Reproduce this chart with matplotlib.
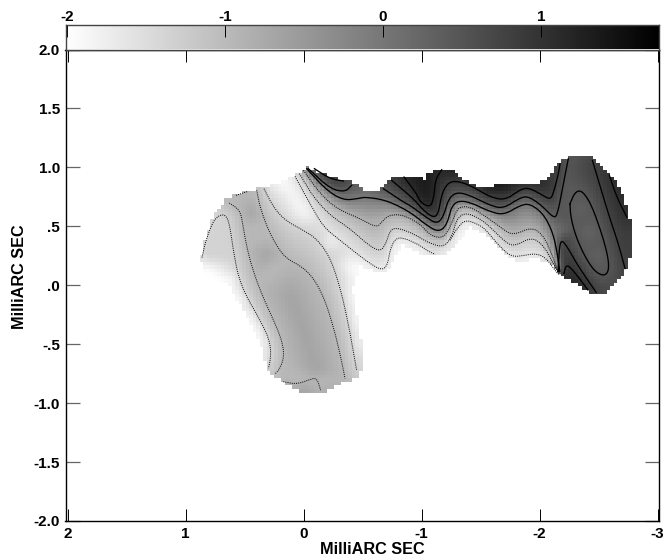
import numpy as np
import matplotlib
matplotlib.use('Agg')
import matplotlib.pyplot as plt
import matplotlib.tri as mtri
from matplotlib.path import Path

plt.rcParams['font.family'] = ['Liberation Sans', 'DejaVu Sans']
plt.rcParams['font.weight'] = 'bold'

# contour lines: x, y in milliarcsec
low1_x = [.860, .835, .792, .750, .694, .651, .623, .595, .552, .482, .383, .298, .276, .284, .298]
low1_y = [.235, .353, .480, .565, .602, .585, .495, .297, .071, -.099, -.268, -.438, -.551, -.650, -.706]
low2_x = [.629, .538, .516, .476, .411, .326, .228, .177, .165, .199, .242]
low2_y = [.698, .636, .523, .297, .071, -.141, -.353, -.494, -.607, -.706, -.754]
low2b_x = [.572, .468]
low2b_y = [.763, .797]
wiggle_x = [.171, .058, -.041, -.111, -.145]
wiggle_y = [-.819, -.839, -.805, -.782, -.890]
low3_x = [.397, .369, .298, .213, .143, .002, -.097, -.182, -.253, -.309, -.352]
low3_y = [.805, .664, .466, .311, .226, .150, .043, -.127, -.353, -.579, -.791]
low4_x = [.335, .256, .157, .002, -.111, -.224, -.309, -.380, -.450]
low4_y = [.819, .664, .551, .466, .395, .240, -.014, -.325, -.720]

g1_x = [.072, -.055, -.168, -.309, -.451, -.564, -.663, -.711, -.733, -.776, -.846, -.987, -1.044, -1.115]
g1_y = [.924, .692, .495, .382, .269, .184, .127, .170, .297, .396, .404, .339, .296, .262]
g2_x = [-1.242, -1.299, -1.369, -1.468, -1.538, -1.665, -1.764, -1.877, -1.962, -2.047, -2.131, -2.168]
g2_y = [.381, .480, .556, .522, .480, .325, .240, .254, .269, .240, .127, .085]
f_x = [.035, -.083, -.225, -.394, -.535, -.648, -.699, -.733, -.790, -.931, -1.044, -1.185, -1.256, -1.299,
       -1.369, -1.468, -1.552, -1.693, -1.778, -1.934, -2.032, -2.103, -2.166]
f_y = [.947, .749, .593, .480, .353, .283, .353, .466, .489, .438, .367, .319, .409, .565,
       .615, .579, .523, .382, .325, .410, .339, .212, .092]
e_x = [.001, -.140, -.281, -.479, -.620, -.663, -.719, -.832, -.987, -1.072, -1.185, -1.256, -1.299, -1.369,
       -1.440, -1.552, -1.693, -1.778, -1.934, -2.032, -2.103, -2.160]
e_y = [.975, .777, .650, .565, .489, .537, .593, .602, .523, .423, .395, .522, .649, .672,
       .649, .579, .472, .424, .494, .424, .268, .105]
d_x = [-.027, -.196, -.338, -.465, -.521, -.705, -.903, -1.044, -1.143, -1.214, -1.256, -1.327, -1.440, -1.552,
       -1.693, -1.835, -1.919, -2.032, -2.112, -2.151, -2.174]
d_y = [.989, .805, .721, .735, .749, .721, .622, .508, .452, .508, .678, .720, .692, .636,
       .593, .678, .692, .607, .452, .269, .099]
c_x = [-.677, -.846, -.903, -1.044, -1.129, -1.185, -1.228, -1.299, -1.412, -1.580, -1.693, -1.835, -1.905, -2.018,
       -2.117, -2.151, -2.202, -2.244]
c_y = [.819, .706, .678, .573, .522, .579, .734, .791, .762, .678, .650, .743, .754, .678,
       .573, .593, .862, 1.074]
c2_x = [-.041, -.225, -.352, -.408]
c2_y = [.989, .819, .791, .848]
b_x = [-.747, -.931, -1.016, -1.101, -1.143, -1.171, -1.228, -1.313, -1.440, -1.580, -1.708, -1.835, -1.905, -2.004,
       -2.089, -2.117, -2.160, -2.174]
b_y = [.890, .735, .635, .573, .607, .777, .875, .884, .833, .749, .721, .811, .828, .777,
       .726, .777, .947, 1.031]
b2_x = [-.092, -.225, -.338]
b2_y = [.989, .904, .884]
a_x = [-.852, -.959, -.988, -1.073, -1.106, -1.115, -1.171]
a_y = [.918, .777, .706, .658, .748, .890, .980]

oval_x = [-2.258, -2.301, -2.357, -2.428, -2.499, -2.569, -2.592, -2.555, -2.470, -2.386, -2.309, -2.264, -2.258]
oval_y = [.692, .791, .805, .706, .523, .297, .141, .076, .113, .240, .410, .579, .692]
m1_x = [-2.448, -2.499, -2.583, -2.668, -2.725]
m1_y = [1.059, .890, .607, .353, .141]
m2_x = [-2.592, -2.654, -2.739]
m2_y = [.932, .749, .579]
under1_x = [-2.159, -2.168, -2.188, -2.244, -2.315, -2.400, -2.480]
under1_y = [.113, .325, .387, .311, .184, .056, -.060]
under2_x = [-2.207, -2.224, -2.258, -2.329, -2.410]
under2_y = [.099, .169, .155, .070, -.040]

# edge of the mapped area with the log brightness seen along it
edge_x = [.860, .868, .830, .770, .640, .470, .335, .200, .072, -.021, -.055, -.157, -.284, -.411, -.547, -.631,
          -.775, -.928, -1.047, -1.047, -1.157, -1.267, -1.411, -1.538, -1.691, -1.903, -1.987, -2.089, -2.157,
          -2.258, -2.411, -2.496, -2.597, -2.682, -2.742, -2.784, -2.784, -2.742, -2.657, -2.530, -2.428, -2.318,
          -2.174, -2.089, -1.945, -1.835, -1.725, -1.581, -1.411, -1.301, -1.182, -1.013, -.843, -.775, -.716,
          -.623, -.479, -.419, -.479, -.504, -.462, -.335, -.157, .004, .174, .301, .352, .513, .640, .852]
edge_y = [.153, .237, .407, .576, .746, .805, .822, .875, .924, 1.000, 1.000, .949, .907, .873, .788, .788,
          .924, .924, .898, .949, .983, .966, .864, .822, .864, .873, .864, .915, 1.034,
          1.102, 1.102, 1.042, .949, .831, .661, .483, .322, .144, .017, -.085, -.068, .017,
          .085, .186, .229, .186, .254, .407, .492, .356, .254, .254, .339, .254, .102,
          .110, .169, -.042, -.381, -.695, -.780, -.831, -.907, -.907, -.831, -.720, -.525, -.212, .017, .042]
edge_v = [-2, -1.9, -1.9, -1.6, -.95, -.85, -1.35, -2, -1.6, -.05, .6, 1.0, .85, .45, .2, .45,
          .85, 1.3, 1.35, 1.3, 1.15, 1.3, 1.4, 1.5, 1.5, 1.4, 1.2, .95, .85,
          .55, .6, .85, 1.05, 1.15, 1.1, .9, .85, .8, .7, .75, 1.05, 1.2,
          1.2, -1.9, -2, -2, -2, -2, -2, -2, -2, -2, -2, -2, -2,
          -2, -2, -2, -2, -1.5, -1.2, -.85, -.65, -.55, -.7, -1.9, -2, -2, -2, -2]

# brightness inside, between the contours
inner_x = [.439, .312, .115, -.027, -.111, .115, -.013, -.224, -.394, -.45, -2.42, -2.33, -2.5, -.988, -1.044,
           .600, .530, .450, .360, .325]
inner_y = [.607, .269, -.099, -.466, -.72, .805, .607, .381, .156, .04, .45, .65, .25, .89, .777,
           .050, -.120, -.270, -.430, -.550]
inner_v = [-.65, -.65, -.65, -.65, -.65, -1.9, -1.9, -1.9, -1.9, -1.9, .25, .3, .3, 1.35, 1.4,
           -1.95, -1.95, -1.95, -1.9, -1.9]

solid = [(d_x, d_y, -.05), (c_x, c_y, .45), (c2_x, c2_y, .45), (b_x, b_y, .85), (b2_x, b2_y, .85),
         (a_x, a_y, 1.15), (oval_x, oval_y, .45), (m1_x, m1_y, .8), (m2_x, m2_y, 1.05),
         (under1_x, under1_y, .8), (under2_x, under2_y, 1.05)]
dotted = [(low1_x, low1_y, -1.35), (low2_x, low2_y, -.95), (low2b_x, low2b_y, -.95), (wiggle_x, wiggle_y, -.95),
          (low3_x, low3_y, -.95), (low4_x, low4_y, -1.35), (g1_x, g1_y, -1.6), (g2_x, g2_y, -1.6),
          (f_x, f_y, -1.25), (e_x, e_y, -.85)]

bar_ticks = [-2, -1, 0, 1]
x_ticks = [2, 1, 0, -1, -2, -3]
y_ticks = [2, 1.5, 1, .5, 0, -.5, -1, -1.5, -2]
y_labels = ['2.0', '1.5', '1.0', '.5', '.0', '-.5', '-1.0', '-1.5', '-2.0']


def chaikin(xs, ys, n=3):
    # round off the corners of a traced line
    p = np.column_stack([xs, ys])
    for _ in range(n):
        q = .75 * p[:-1] + .25 * p[1:]
        r = .25 * p[:-1] + .75 * p[1:]
        mid = np.empty((2 * len(q), 2))
        mid[0::2] = q
        mid[1::2] = r
        p = np.vstack([p[0], mid, p[-1]])
    return p[:, 0], p[:, 1]


W, H = 667, 556
fig = plt.figure(figsize=(W / 100, H / 100), dpi=100)
ax = fig.add_axes([65.5 / W, 1 - 521 / H, (659.3 - 65.5) / W, (521 - 49.5) / H])
cax = fig.add_axes([65.5 / W, 1 - 49.5 / H, (659.3 - 65.5) / W, 24.5 / H])

px, py, pv = list(edge_x), list(edge_y), list(edge_v)
px += inner_x
py += inner_y
pv += inner_v
for xs, ys, v in solid + dotted:
    sx, sy = chaikin(xs, ys, 2)
    px += list(sx)
    py += list(sy)
    pv += [v] * len(sx)
pts, idx = np.unique(np.round(np.column_stack([px, py]), 4), axis=0, return_index=True)
vals = np.array(pv)[idx]
tri = mtri.Triangulation(pts[:, 0], pts[:, 1])
interp = mtri.LinearTriInterpolator(tri, vals)

cell = .03
xe = np.arange(-2.9, 1.0, cell)
ye = np.arange(-1.0, 1.2, cell)
xc, yc = np.meshgrid(xe[:-1] + cell / 2, ye[:-1] + cell / 2)
zi = np.ma.filled(interp(xc, yc), -2.0)
inside = Path(np.column_stack([edge_x, edge_y])).contains_points(np.column_stack([xc.ravel(), yc.ravel()]))
inside = inside.reshape(xc.shape)

# soften the facets, only inside the mapped area
for _ in range(3):
    w = inside.astype(float)
    s = zi * w
    total = s.copy()
    count = w.copy()
    for ax_n, step in [(0, 1), (0, -1), (1, 1), (1, -1)]:
        total += np.roll(s, step, axis=ax_n)
        count += np.roll(w, step, axis=ax_n)
    zi = np.where(inside, total / np.maximum(count, 1), zi)

zi = np.ma.masked_where(~inside, zi)
ax.pcolormesh(xe, ye, zi, cmap='gray_r', vmin=-2.01, vmax=1.75, linewidth=0, rasterized=True)

for xs, ys, v in solid:
    sx, sy = chaikin(xs, ys)
    ax.plot(sx, sy, color='black', lw=.95)
for xs, ys, v in dotted:
    sx, sy = chaikin(xs, ys)
    ax.plot(sx, sy, color='black', lw=.7, ls=(0, (1, 1.2)))

ax.set_xlim(2.017, -3.015)
ax.set_ylim(-2.0, 2.0)
ax.set_xticks(x_ticks)
ax.set_xticklabels([str(t) for t in x_ticks])
ax.set_yticks(y_ticks)
ax.set_yticklabels(y_labels)
ax.tick_params(axis='x', direction='in', length=8.7, width=.7, labelsize=11, pad=4, top=True)
ax.tick_params(axis='y', direction='in', length=9.8, width=.9, color='#666666', labelsize=11, pad=4, right=True)
for s in ax.spines.values():
    s.set_linewidth(1.0)

# wedge on top
ramp = np.linspace(-2.01, 1.75, 512).reshape(1, -1)
cax.imshow(ramp, extent=[-2.01, 1.75, 0, 1], aspect='auto', cmap='gray_r', vmin=-2.01, vmax=1.75)
cax.set_xlim(-2.01, 1.75)
cax.set_yticks([])
cax.set_xticks(bar_ticks)
cax.set_xticklabels([str(t) for t in bar_ticks])
cax.xaxis.tick_top()
cax.tick_params(axis='x', direction='in', length=8.7, width=.7, labelsize=11, pad=1)
for s in cax.spines.values():
    s.set_linewidth(1.0)
    s.set_color('#444444')

fig.text(372 / W, 1 - 549.5 / H, 'MilliARC SEC', ha='center', va='center', fontsize=11.7)
fig.text(20 / W, 1 - 277 / H, 'MilliARC SEC', ha='center', va='center', rotation=90, fontsize=11.7)

fig.savefig('out.png', dpi=100)
